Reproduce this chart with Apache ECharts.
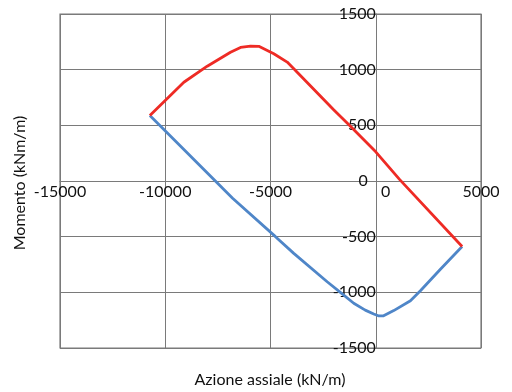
<!DOCTYPE html>
<html>
<head>
<meta charset="utf-8">
<script src="https://cdn.jsdelivr.net/npm/echarts@6/dist/echarts.min.js"></script>
<style>html,body{margin:0;padding:0;background:#fff}#c{width:512px;height:392px}</style>
</head>
<body>
<div id="c"></div>
<script>
// Data
var xTitle = 'Azione assiale (kN/m)';
var yTitle = 'Momento (kNm/m)';
var xTicks = [-15000, -10000, -5000, 0, 5000];
var yTicks = [-1500, -1000, -500, 0, 500, 1000, 1500];
// Upper branch (red): [axial force, moment]
var upperN = [-10730, -9117, -8006, -6900, -6424, -5950, -5555, -4843, -4207, -3893, -2000, -1168, 0, 1140, 4103];
var upperM = [588, 887, 1031, 1157, 1200, 1212, 1210, 1143, 1068, 1009, 640, 485, 262, 12, -589];
// Lower branch (blue)
var lowerN = [-10730, -6800, -4763, -3894, -2308, -1681, -1045, -500, -95, 150, 350, 855, 1648, 2122, 3072, 4103];
var lowerM = [588, -155, -500, -650, -905, -1000, -1098, -1160, -1194, -1212, -1212, -1164, -1075, -986, -792, -589];

function pairs(a, b) { return a.map(function (v, i) { return [v, b[i]]; }); }

var FONT = 'Lato';
var W = 512, H = 392;
var G = {left: 60, right: 31, top: 14, bottom: 44};
var gw = W - G.left - G.right, gh = H - G.top - G.bottom;
var xMin = xTicks[0], xMax = xTicks[xTicks.length - 1];
var yMin = yTicks[0], yMax = yTicks[yTicks.length - 1];
// shift axes so they cross at zero (axis-relative offsets)
var xOff = -gh * (0 - yMin) / (yMax - yMin);
var yOff = -gw * (0 - xMin) / (xMax - xMin);

var chart = echarts.init(document.getElementById('c'), null, {renderer: 'canvas'});
chart.setOption({
  animation: false,
  backgroundColor: '#fff',
  grid: {left: G.left, right: G.right, top: G.top, bottom: G.bottom, show: true, borderColor: '#7a7a7a', borderWidth: 1.2, containLabel: false},
  xAxis: {
    type: 'value', min: xMin, max: xMax, interval: 5000, position: 'bottom', offset: xOff,
    axisLine: {show: true, onZero: false, lineStyle: {color: '#7a7a7a', width: 1}},
    axisTick: {show: false},
    splitLine: {show: true, lineStyle: {color: '#7a7a7a', width: 1}},
    axisLabel: {
      margin: 3, color: '#111', fontFamily: FONT, fontSize: 16, hideOverlap: false,
      formatter: function (v) { return v === 0 ? '{z|0}' : String(v); },
      rich: {z: {padding: [0, 0, 0, 20], fontFamily: FONT, fontSize: 16, color: '#111'}}
    }
  },
  yAxis: {
    type: 'value', min: yMin, max: yMax, interval: 500, position: 'left', offset: yOff,
    axisLine: {show: true, onZero: false, lineStyle: {color: '#7a7a7a', width: 1}},
    axisTick: {show: false},
    splitLine: {show: true, lineStyle: {color: '#7a7a7a', width: 1}},
    axisLabel: {margin: 0, color: '#111', fontFamily: FONT, fontSize: 16, hideOverlap: false,
      formatter: function (v) { return v === 0 ? '{z|0}' : String(v); },
      rich: {z: {padding: [0, 8, 0, 0], fontFamily: FONT, fontSize: 16, color: '#111'}}}
  },
  graphic: [
    {type: 'text', x: 270, y: 380,
      style: {text: xTitle, fontFamily: FONT, fontSize: 16, fill: '#111', align: 'center', verticalAlign: 'middle'}},
    {type: 'text', rotation: Math.PI / 2, x: 20, y: 183,
      style: {text: yTitle, fontFamily: FONT, fontSize: 16, fill: '#111', align: 'center', verticalAlign: 'middle'}}
  ],
  series: [
    {type: 'line', data: pairs(upperN, upperM), showSymbol: false, symbol: 'none',
      lineStyle: {color: '#ee2b25', width: 2.8}, z: 3},
    {type: 'line', data: pairs(lowerN, lowerM), showSymbol: false, symbol: 'none',
      lineStyle: {color: '#4f86c8', width: 2.8}, z: 2}
  ]
});
</script>
</body>
</html>
